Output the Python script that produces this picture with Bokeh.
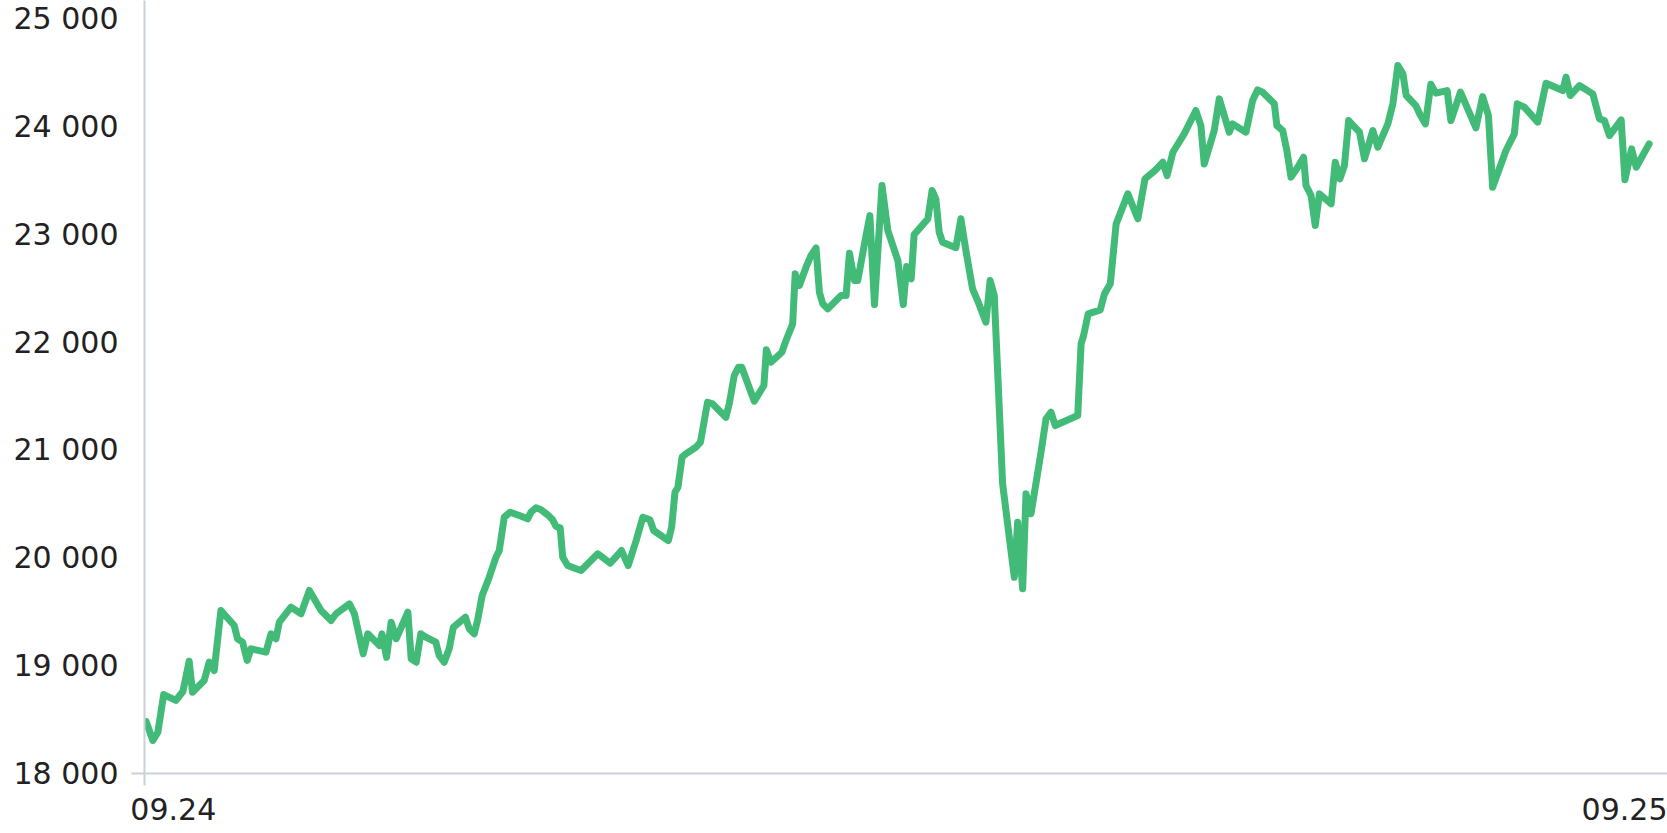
from bokeh.plotting import figure
from bokeh.models import Range1d, FixedTicker
from bokeh.embed import file_html
from bokeh.resources import INLINE

# days since 09.24 and index values
days = [0.4, 2.0, 3.2, 4.6, 7.5, 9.2, 10.7, 11.5, 14.3, 15.5, 16.7, 18.3, 21.5, 22.3, 23.5, 24.6, 25.5,
        29.1, 30.3, 31.5, 32.3, 35.1, 37.5, 39.5, 42.3, 44.7, 45.9, 49.1, 50.3, 52.4, 53.5, 56.3, 56.9,
        58.0, 59.1, 60.3, 63.1, 63.9, 65.1, 66.2, 67.4, 69.8, 70.6, 71.8, 73.0, 74.0, 76.9, 77.8, 79.0,
        79.8, 80.9, 82.6, 84.2, 85.0, 86.2, 87.6, 89.8, 91.8, 92.6, 93.8, 95.0, 96.6, 97.8, 98.6, 99.6,
        100.2, 101.4, 103.4, 104.6, 108.6, 111.6, 114.3, 115.9, 117.8, 119.4, 121.1, 122.0, 125.5, 126.3,
        127.1, 127.8, 128.8, 129.7, 132.1, 133.2, 134.9, 136.1, 139.3, 140.1, 141.3, 142.3, 143.1, 146.1,
        148.4, 149.0, 150.1, 152.7, 153.7, 155.3, 155.9, 156.9, 158.5, 159.7, 160.9, 161.7, 162.5, 163.7,
        166.9, 168.1, 168.9, 170.1, 170.9, 172.5, 173.8, 174.9, 176.7, 178.1, 180.5, 181.8, 182.6, 183.7,
        184.4, 185.6, 187.7, 188.7, 189.6, 190.4, 191.2, 194.4, 195.6, 196.8, 198.4, 199.6, 201.6, 202.6,
        203.6, 205.6, 208.4, 209.2, 210.4, 211.2, 212.4, 214.8, 216.0, 217.2, 218.2, 223.6, 224.4, 225.0,
        226.1, 229.0, 230.0, 231.4, 232.8, 235.6, 238.0, 239.7, 242.1, 244.0, 245.0, 246.4, 249.1, 251.9,
        253.1, 253.9, 256.3, 257.5, 259.9, 260.7, 263.9, 265.5, 266.7, 267.9, 270.7, 271.3, 272.7, 273.7,
        274.7, 276.3, 277.7, 278.3, 279.5, 280.5, 281.5, 284.3, 285.3, 286.4, 287.5, 288.5, 291.1, 292.3,
        294.3, 295.5, 297.9, 299.1, 300.3, 301.5, 302.3, 304.6, 305.6, 306.9, 308.2, 309.4, 312.1, 313.0,
        315.3, 319.0, 320.6, 322.0, 323.0, 326.2, 328.2, 328.9, 330.6, 333.8, 335.8, 339.8, 340.6, 341.6,
        343.8, 347.0, 348.6, 349.8, 351.0, 353.8, 354.7, 356.3, 357.4, 360.5]

values = [18480, 18306, 18383, 18732, 18677, 18760, 19041, 18754, 18862, 19032, 18955, 19511, 19372, 19249,
          19218, 19048, 19156, 19125, 19295, 19249, 19403, 19542, 19481, 19697, 19511, 19419, 19481, 19573,
          19481, 19110, 19295, 19187, 19295, 19078, 19403, 19249, 19496, 19063, 19032, 19295, 19264, 19218,
          19094, 19032, 19156, 19356, 19449, 19342, 19295, 19419, 19650, 19820, 20005, 20067, 20376, 20423,
          20392, 20361, 20423, 20463, 20445, 20398, 20352, 20290, 20278, 20005, 19928, 19898, 19882, 20037,
          19950, 20067, 19928, 20160, 20376, 20352, 20253, 20160, 20284, 20608, 20655, 20933, 20964, 21025,
          21072, 21442, 21427, 21303, 21427, 21690, 21767, 21767, 21452, 21597, 21928, 21813, 21906, 22014,
          22169, 22633, 22524, 22694, 22803, 22874, 22462, 22355, 22308, 22432, 22432, 22824, 22571, 22571,
          22911, 23173, 22348, 23451, 23034, 22756, 22348, 22701, 22586, 22997, 23050, 23143, 23405, 23328,
          23019, 22926, 22875, 23143, 22849, 22494, 22385, 22184, 22571, 22432, 20685, 19820, 20330, 19712,
          20593, 20408, 20979, 21289, 21350, 21226, 21319, 21984, 22060, 22262, 22299, 22447, 22540, 23096,
          23374, 23143, 23513, 23591, 23668, 23544, 23760, 23930, 24147, 24008, 23652, 23961, 24255, 23946,
          24023, 23946, 24240, 24339, 24317, 24209, 24008, 23961, 23776, 23529, 23621, 23714, 23451, 23359,
          23081, 23374, 23281, 23668, 23513, 23637, 24054, 23946, 23699, 23961, 23807, 24023, 24209, 24564,
          24487, 24286, 24193, 24110, 24023, 24390, 24308, 24332, 24054, 24317, 23986, 24276, 24100, 23436,
          23776, 23930, 24209, 24178, 24039, 24400, 24332, 24456, 24286, 24379, 24301, 24069, 24054, 23915,
          24060, 23504, 23791, 23621, 23838]

y_ticks = [18000, 19000, 20000, 21000, 22000, 23000, 24000, 25000]
x_labels = ["09.24", "09.25"]
x_label_days = [6.9, 354.7]

FONT = "DejaVu Sans"
TXT = "#222222"
AXIS = "#c9d1da"

p = figure(frame_width=1523, frame_height=773, output_backend="svg", toolbar_location=None,
           x_range=Range1d(0, 364.9), y_range=Range1d(18000, 25167),
           min_border_left=144, min_border_right=0, min_border_top=0, min_border_bottom=60)
p.xgrid.visible = False
p.ygrid.visible = False
p.outline_line_color = None
p.background_fill_color = "white"
p.border_fill_color = "white"

p.line(days, values, line_color="#41bb77", line_width=7, line_join="round", line_cap="round")

ya = p.yaxis[0]
ya.ticker = FixedTicker(ticks=y_ticks, minor_ticks=[y_ticks[0]])
ya.major_label_overrides = {t: f"{t:,}".replace(",", " ") for t in y_ticks}
ya.major_tick_line_color = None
ya.major_tick_out = 0
ya.major_tick_in = 0
ya.minor_tick_out = 13
ya.minor_tick_in = 0
ya.minor_tick_line_color = AXIS
ya.minor_tick_line_width = 2
ya.axis_line_color = AXIS
ya.axis_line_width = 2
ya.major_label_standoff = 13
ya.major_label_text_font = FONT
ya.major_label_text_font_size = "30px"
ya.major_label_text_color = TXT

xa = p.xaxis[0]
xa.ticker = FixedTicker(ticks=x_label_days, minor_ticks=[0])
xa.major_label_overrides = {d: t for d, t in zip(x_label_days, x_labels)}
xa.major_tick_line_color = None
xa.major_tick_out = 0
xa.major_tick_in = 0
xa.minor_tick_out = 12
xa.minor_tick_in = 0
xa.minor_tick_line_color = AXIS
xa.minor_tick_line_width = 2
xa.axis_line_color = AXIS
xa.axis_line_width = 2
xa.major_label_standoff = 12
xa.major_label_text_font = FONT
xa.major_label_text_font_size = "30px"
xa.major_label_text_color = TXT

open("out.html", "w").write(file_html(p, INLINE))
